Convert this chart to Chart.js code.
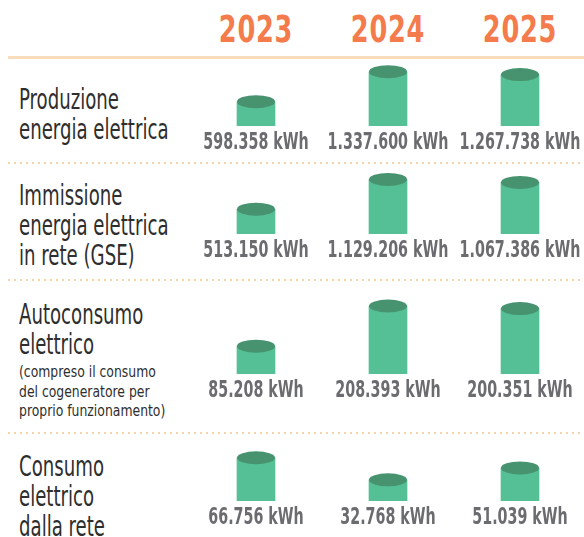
<!DOCTYPE html>
<html lang="it">
<head>
<meta charset="utf-8">
<title>Energia elettrica</title>
<script src="https://cdn.jsdelivr.net/npm/chart.js@4.4.1/dist/chart.umd.min.js"></script>
<style>
  html, body { margin: 0; padding: 0; background: #fff; overflow: hidden; }
  body { width: 584px; height: 537px; position: relative; font-family: 'DejaVu Sans Condensed', sans-serif; }
  .year { position: absolute; top: 11px; width: 132px; text-align: center; color: #f47b4b; font-weight: bold; font-size: 37px; line-height: 37px; letter-spacing: 1px; transform: scaleX(0.77); transform-origin: center; }
  .solid { position: absolute; left: 8px; right: 0; top: 56px; height: 3px; background: #f9dcbc; }
  .dots { position: absolute; left: 8px; right: 0; height: 2px; background: repeating-linear-gradient(to right, #f8d3a8 0 2px, transparent 2px 6px); }
  .label { position: absolute; left: 19px; color: #2e2e2e; font-size: 24px; line-height: 25px; transform: scale(0.84, 1.2); transform-origin: top left; white-space: nowrap; }
  .note { position: absolute; left: 19px; color: #2e2e2e; font-size: 15px; line-height: 19.5px; transform: scaleX(0.92); transform-origin: top left; white-space: nowrap; }
  .row { position: absolute; left: 190px; width: 396px; }
</style>
</head>
<body>
<div id="header"></div>
<div class="solid"></div>
<div class="dots" style="top:162px"></div>
<div class="dots" style="top:279px"></div>
<div class="dots" style="top:432px"></div>

<div class="label" style="top:85px">Produzione<br>energia elettrica</div>
<div class="label" style="top:181px">Immissione<br>energia elettrica<br>in rete (GSE)</div>
<div class="label" style="top:300px">Autoconsumo<br>elettrico</div>
<div class="note" style="top:363px">(compreso il consumo<br>del cogeneratore per<br>proprio funzionamento)</div>
<div class="label" style="top:452px">Consumo<br>elettrico<br>dalla rete</div>

<div class="row" style="top:57px;height:104px"><canvas id="row0"></canvas></div>
<div class="row" style="top:163px;height:106px"><canvas id="row1"></canvas></div>
<div class="row" style="top:280px;height:129px"><canvas id="row2"></canvas></div>
<div class="row" style="top:433px;height:103px"><canvas id="row3"></canvas></div>

<script>
// anni e valori (kWh)
const years = ['2023', '2024', '2025'];
const produzione = [598358, 1337600, 1267738];
const immissione = [513150, 1129206, 1067386];
const autoconsumo = [85208, 208393, 200351];
const consumoRete = [66756, 32768, 51039];
// massimo asse y per ogni riga (ogni riga ha la sua scala)
const axisMax = [1700000, 1470000, 288000, 105000];

const rows = [produzione, immissione, autoconsumo, consumoRete];

const bodyColor = '#55bf95';
const topColor = '#47936f';
const labelColor = '#6b6c6f';

// intestazione anni
const header = document.getElementById('header');
years.forEach((y, i) => {
  const d = document.createElement('div');
  d.className = 'year';
  d.style.left = (190 + i * 132) + 'px';
  d.textContent = y;
  header.appendChild(d);
});

// formato italiano: 1.337.600 kWh
function fmt(v) {
  return String(v).replace(/\B(?=(\d{3})+(?!\d))/g, '.') + ' kWh';
}

// coperchio ellittico del cilindro
const cylinderTops = {
  id: 'cylinderTops',
  afterDatasetsDraw(chart) {
    const ctx = chart.ctx;
    chart.getDatasetMeta(0).data.forEach(bar => {
      const { x, y, width } = bar.getProps(['x', 'y', 'width'], true);
      ctx.save();
      ctx.fillStyle = topColor;
      ctx.beginPath();
      ctx.ellipse(x, y, width / 2, 6.5, 0, 0, Math.PI * 2);
      ctx.fill();
      ctx.restore();
    });
  }
};

// etichette sotto i cilindri, carattere stretto (schiacciato in orizzontale)
const valueLabels = {
  id: 'valueLabels',
  afterDraw(chart) {
    const ctx = chart.ctx;
    const xScale = chart.scales.x;
    chart.data.labels.forEach((label, i) => {
      ctx.save();
      ctx.font = "bold 23px 'DejaVu Sans Condensed', sans-serif";
      ctx.fillStyle = labelColor;
      ctx.textAlign = 'center';
      ctx.textBaseline = 'middle';
      ctx.translate(xScale.getPixelForTick(i), chart.chartArea.bottom + 17.5);
      ctx.scale(0.69, 1);
      ctx.fillText(label, 0, 0);
      ctx.restore();
    });
  }
};

rows.forEach((values, i) => {
  new Chart(document.getElementById('row' + i), {
    type: 'bar',
    data: {
      labels: values.map(fmt),
      datasets: [{
        data: values,
        backgroundColor: bodyColor,
        barThickness: 38
      }]
    },
    options: {
      responsive: true,
      maintainAspectRatio: false,
      animation: false,
      layout: { padding: { top: 0, left: 0, right: 0, bottom: 35 } },
      plugins: {
        legend: { display: false },
        tooltip: { enabled: false }
      },
      scales: {
        x: {
          grid: { display: false, drawTicks: false },
          border: { display: false },
          ticks: { display: false }
        },
        y: { display: false, min: 0, max: axisMax[i] }
      }
    },
    plugins: [cylinderTops, valueLabels]
  });
});
</script>
</body>
</html>
